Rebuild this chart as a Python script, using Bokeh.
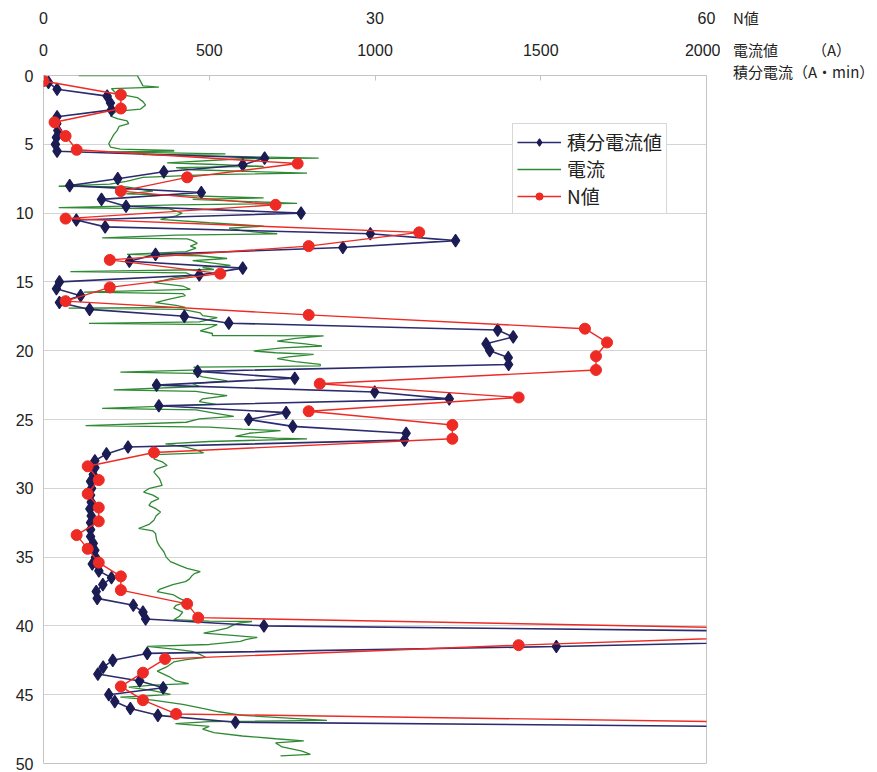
from bokeh.plotting import figure
from bokeh.layouts import row
from bokeh.models import Range1d, LinearAxis, FixedTicker, Legend, LegendItem, Div
from bokeh.embed import file_html
from bokeh.resources import INLINE

# ---------------- data ----------------
n_depth = [0.4, 1.4, 2.4, 3.4, 4.4, 5.4, 6.4, 7.4, 8.4, 9.4, 10.4, 11.4, 12.4, 13.4, 14.4, 15.4,
           16.4, 17.4, 18.4, 19.4, 20.4, 21.4, 22.4, 23.4, 24.4, 25.4, 26.4, 27.4, 28.4, 29.4, 30.4,
           31.4, 32.4, 33.4, 34.4, 35.4, 36.4, 37.4, 38.4, 39.4, 40.4, 41.4, 42.4, 43.4, 44.4, 45.4,
           46.4, 47.4]
n_value = [0, 7, 7, 1, 2, 3, 23, 13, 7, 21, 2, 34, 24, 6, 16, 6, 2, 24, 49, 51, 50, 50, 25, 43, 24,
           37, 37, 10, 4, 5, 4, 5, 5, 3, 4, 5, 7, 7, 13, 14, 80, 43, 11, 9, 7, 9, 12, 100]

int_depth = [0.5, 1.0, 1.5, 2.0, 2.5, 3.0, 3.5, 4.0, 4.5, 5.0, 5.5, 6.0, 6.5, 7.0, 7.5, 8.0, 8.5,
             9.0, 9.5, 10.0, 10.5, 11.0, 11.5, 12.0, 12.5, 13.0, 13.5, 14.0, 14.5, 15.0, 15.5, 16.0,
             16.5, 17.0, 17.5, 18.0, 18.5, 19.0, 19.5, 20.0, 20.5, 21.0, 21.5, 22.0, 22.5, 23.0,
             23.5, 24.0, 24.5, 25.0, 25.5, 26.0, 26.5, 27.0, 27.5, 28.0, 28.5, 29.0, 29.5, 30.0,
             30.5, 31.0, 31.5, 32.0, 32.5, 33.0, 33.5, 34.0, 34.5, 35.0, 35.5, 36.0, 36.5, 37.0,
             37.5, 38.0, 38.5, 39.0, 39.5, 40.0, 40.5, 41.0, 41.5, 42.0, 42.5, 43.0, 43.5, 44.0,
             44.5, 45.0, 45.5, 46.0, 46.5, 47.0, 47.5]
int_value = [15, 41, 192, 202, 205, 41, 40, 43, 39, 36,
             41, 667, 601, 363, 224, 79, 476, 175, 249, 777,
             99, 186, 986, 1243, 903, 338, 259, 601, 470, 48,
             39, 112, 48, 139, 425, 559, 1370, 1417, 1335, 1346,
             1402, 1403, 465, 758, 341, 999, 1224, 348, 732, 619,
             752, 1094, 1089, 255, 190, 155, 155, 150, 142, 145,
             142, 144, 140, 144, 142, 142, 142, 150, 155, 157,
             147, 167, 205, 179, 159, 162, 271, 300, 308, 665,
             2600, 2500, 1547, 313, 209, 180, 164, 290, 361, 197,
             215, 262, 345, 579, 3000]

cur_depth = [0.00, 0.01, 0.30, 0.75, 0.85, 0.95, 1.20, 1.40, 1.60, 1.90, 2.15, 2.45, 2.60, 2.95,
             3.15, 3.30, 3.50, 3.70, 4.00, 4.30, 4.60, 4.95, 5.20, 5.35, 5.45, 5.50, 5.55, 5.70,
             5.75, 6.00, 6.05, 6.35, 6.45, 6.60, 6.70, 6.85, 7.10, 7.20, 7.40, 7.70, 7.90, 8.05,
             8.10, 8.40, 8.60, 8.90, 9.00, 9.30, 9.40, 9.60, 9.70, 10.00, 10.20, 10.45, 10.70,
             10.95, 11.10, 11.25, 11.40, 11.50, 11.60, 11.80, 11.88, 12.00, 12.20, 12.40, 12.55,
             12.80, 13.00, 13.10, 13.30, 13.45, 13.60, 13.80, 13.95, 14.10, 14.25, 14.35, 14.55,
             14.70, 14.90, 15.05, 15.30, 15.55, 15.75, 15.85, 16.00, 16.25, 16.50, 16.70, 16.85,
             16.90, 17.00, 17.25, 17.45, 17.60, 17.90, 18.02, 18.10, 18.35, 18.55, 18.75, 18.90,
             18.92, 19.10, 19.30, 19.50, 19.66, 19.80, 20.02, 20.15, 20.26, 20.45, 20.57, 20.80,
             21.00, 21.10, 21.20, 21.40, 21.55, 21.65, 21.90, 22.20, 22.40, 22.60, 22.84, 22.95,
             23.10, 23.27, 23.50, 23.70, 23.90, 24.19, 24.30, 24.55, 24.77, 24.95, 25.20, 25.45,
             25.55, 25.70, 25.81, 26.00, 26.22, 26.35, 26.41, 26.60, 26.77, 27.00, 27.20, 27.42,
             27.55, 27.86, 28.10, 28.34, 28.60, 28.82, 29.30, 29.79, 30.00, 30.27, 30.50, 30.75,
             31.00, 31.24, 31.50, 31.72, 32.00, 32.32, 32.60, 32.92, 33.10, 33.28, 33.60, 33.89,
             34.20, 34.61, 35.00, 35.33, 35.60, 35.82, 36.06, 36.20, 36.35, 36.60, 36.78, 37.00,
             37.14, 37.35, 37.51, 37.75, 38.00, 38.23, 38.50, 38.71, 39.00, 39.30, 39.55, 39.65,
             39.68, 39.80, 39.92, 40.16, 40.35, 40.52, 40.70, 40.84, 41.00, 41.13, 41.35, 41.49,
             41.70, 41.85, 42.05, 42.28, 42.45, 42.62, 43.00, 43.29, 43.70, 44.00, 44.19, 44.30,
             44.45, 44.70, 44.98, 45.10, 45.17, 45.40, 45.70, 46.00, 46.24, 46.50, 46.87, 46.95,
             47.10, 47.30, 47.50, 47.76, 48.00, 48.20, 48.36, 48.50, 48.80, 49.10, 49.33, 49.45]
cur_value = [106, 283, 290, 300, 348, 205, 215, 240, 283, 300, 308, 292, 220, 202,
             225, 252, 257, 228, 222, 212, 205, 197, 202, 232, 393, 393, 200, 549,
             300, 830, 600, 373, 500, 664, 400, 450, 795, 500, 300, 250, 200, 46,
             250, 330, 250, 664, 450, 765, 400, 46, 380, 418, 400, 353, 500,
             664, 560, 594, 650, 705, 400, 177, 433, 450, 464, 443, 460,
             430, 252, 470, 554, 450, 500, 564, 480, 514, 81, 430, 450,
             393, 360, 333, 420, 443, 122, 420, 428, 380, 338, 400, 428,
             76, 420, 473, 480, 524, 470, 137, 524, 500, 473, 510, 509,
             845, 760, 705, 790, 840, 720, 634, 700, 815, 740, 705, 760,
             835, 835, 453, 470, 232, 450, 480, 554, 450, 470, 212, 460,
             500, 554, 480, 470, 520, 177, 460, 520, 574, 470, 430, 127,
             500, 600, 715, 620, 579, 700, 795, 500, 368, 430, 460, 483,
             340, 333, 360, 373, 340, 333, 350, 358, 320, 302, 330, 348,
             325, 318, 340, 353, 340, 333, 320, 287, 330, 338, 340, 343,
             350, 363, 370, 383, 410, 433, 473, 455, 448, 440, 428, 390,
             373, 350, 343, 393, 410, 433, 400, 393, 420, 410, 393, 500,
             629, 590, 574, 554, 520, 483, 580, 645, 610, 594, 500, 313,
             400, 448, 470, 489, 430, 393, 370, 343, 380, 400, 438, 330,
             257, 330, 383, 300, 232, 330, 420, 480, 529, 600, 855, 500,
             398, 500, 480, 514, 600, 700, 785, 700, 720, 780, 805, 715]

depth_ticks = [0, 5, 10, 15, 20, 25, 30, 35, 40, 45, 50]
current_ticks = [0, 500, 1000, 1500, 2000]
n_ticks = [0, 30, 60]

# ---------------- styles ----------------
NAVY = "#2b2b6e"
NAVY_MK = "#1c1c55"
GREEN = "#2f8a34"
RED = "#ee2a24"
NUM_FONT = "Liberation Sans"
JP_FONT = "Noto Sans CJK JP"
TXT = "#222222"

p = figure(width=720, height=772, output_backend="svg", toolbar_location=None,
           x_range=Range1d(0, 2000), y_range=Range1d(50, 0),
           x_axis_location="above",
           min_border_left=43, min_border_right=14, min_border_top=75, min_border_bottom=9)
p.extra_x_ranges = {"n": Range1d(0, 60)}
p.background_fill_color = "white"
p.border_fill_color = "white"
p.outline_line_color = "#c4c4c4"
p.outline_line_width = 1

# current axis (primary, above)
xa = p.xaxis[0]
xa.ticker = FixedTicker(ticks=current_ticks)
xa.axis_line_color = None
xa.major_tick_in = 5
xa.major_tick_out = 0
xa.major_tick_line_color = "#c4c4c4"
xa.minor_tick_line_color = None
xa.major_label_text_font = NUM_FONT
xa.major_label_text_font_size = "16px"
xa.major_label_text_color = TXT
xa.major_label_standoff = 20

# N axis (above, outer)
na = LinearAxis(x_range_name="n", ticker=FixedTicker(ticks=n_ticks))
na.axis_line_color = None
na.major_tick_line_color = None
na.minor_tick_line_color = None
na.major_tick_in = 0
na.major_tick_out = 0
na.major_label_text_font = NUM_FONT
na.major_label_text_font_size = "16px"
na.major_label_text_color = TXT
na.major_label_standoff = 17
p.add_layout(na, "above")

ya = p.yaxis[0]
ya.ticker = FixedTicker(ticks=depth_ticks)
ya.axis_line_color = None
ya.major_tick_line_color = None
ya.minor_tick_line_color = None
ya.major_tick_in = 0
ya.major_tick_out = 0
ya.major_label_text_font = NUM_FONT
ya.major_label_text_font_size = "16px"
ya.major_label_text_color = TXT
ya.major_label_standoff = 10

p.xgrid.grid_line_color = None
p.ygrid.ticker = FixedTicker(ticks=depth_ticks)
p.ygrid.grid_line_color = "#d4d4d4"
p.ygrid.grid_line_width = 1

# series
g_line = p.line(cur_value, cur_depth, line_color=GREEN, line_width=1.3)

i_line = p.line(int_value, int_depth, line_color=NAVY, line_width=1.6)
i_pts = p.scatter(int_value, int_depth, marker="diamond", size=12.5,
                  fill_color=NAVY_MK, line_color=NAVY_MK, line_width=1.2)

n_line = p.line(n_value, n_depth, x_range_name="n", line_color=RED, line_width=1.4)
n_pts = p.scatter(n_value, n_depth, x_range_name="n", marker="circle", size=11,
                  fill_color=RED, line_color=RED)

legend = Legend(items=[
    LegendItem(label="積分電流値", renderers=[i_line, i_pts]),
    LegendItem(label="電流", renderers=[g_line]),
    LegendItem(label="N値", renderers=[n_line, n_pts]),
], location=(469, 549))
legend.label_text_font = JP_FONT
legend.label_text_font_size = "19px"
legend.label_text_color = TXT
legend.glyph_width = 44
legend.glyph_height = 18
legend.label_height = 18
legend.label_standoff = 6
legend.spacing = 0
legend.padding = 4
legend.margin = 0
legend.border_line_color = "#b0b0b0"
legend.border_line_width = 1
legend.background_fill_color = "white"
legend.background_fill_alpha = 1.0
p.add_layout(legend)

# unit labels to the right of the chart
span = "position:absolute;white-space:nowrap;line-height:16px;"
units_html = (
    "<div style=\"position:relative;width:157px;height:772px;"
    "font-family:'Noto Sans CJK JP';font-size:15px;color:#222222;\">"
    f"<span style=\"{span}left:13px;top:10px;\">N値</span>"
    f"<span style=\"{span}left:13px;top:42px;\">電流値</span>"
    f"<span style=\"{span}left:92px;top:42px;\">（A）</span>"
    f"<span style=\"{span}left:13px;top:64px;\">積分電流（A・min）</span>"
    "</div>"
)
units = Div(text=units_html, width=157, height=772, margin=0)

layout = row(p, units)
open("out.html", "w").write(file_html(layout, INLINE))
